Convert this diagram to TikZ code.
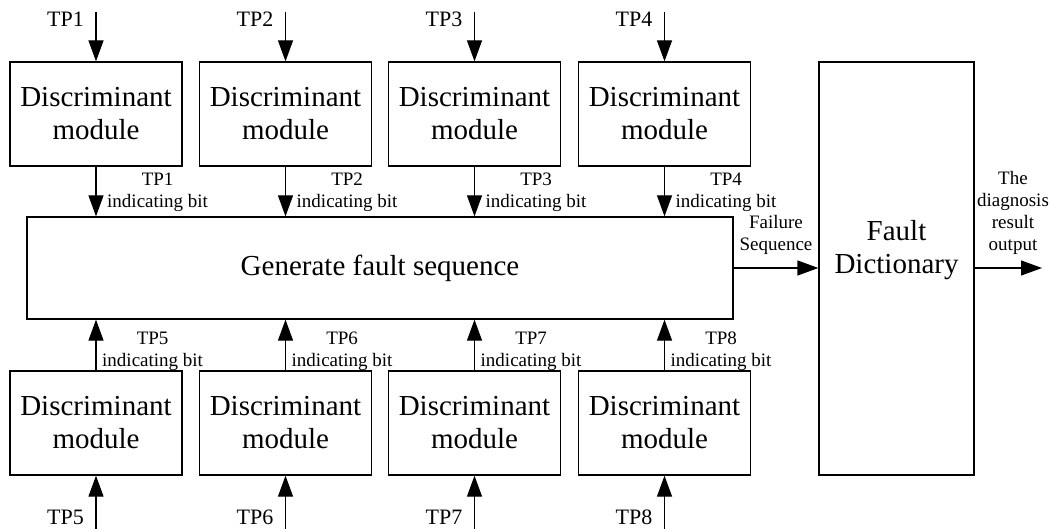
\documentclass[tikz,border=0pt]{standalone}
\usepackage{fontspec}
\setmainfont{Liberation Serif}
\usetikzlibrary{arrows.meta,positioning}

\begin{document}
\begin{tikzpicture}[x=1pt,y=-1pt,
    dmod/.style={draw, line width=1.3pt, minimum width=172pt, minimum height=104pt, inner sep=0pt, align=center, font=\fontsize{29}{33}\selectfont},
    arr/.style={line width=1.3pt, -{Triangle[length=21pt,width=15pt]}},
    tp/.style={inner sep=0pt, font=\fontsize{22}{26}\selectfont},
    bitlab/.style={inner sep=0pt, align=center, font=\fontsize{19}{22}\selectfont}]
        \useasboundingbox (0,0) rectangle (1054,529);
        % discriminant modules, upper row
        \node [dmod] (d1) at (96,114) {Discriminant\\module};
        \node [dmod] (d2) at (285.5,114) {Discriminant\\module};
        \node [dmod] (d3) at (474.5,114) {Discriminant\\module};
        \node [dmod] (d4) at (664.5,114) {Discriminant\\module};
        % discriminant modules, lower row
        \node [dmod] (d5) at (96,423) {Discriminant\\module};
        \node [dmod] (d6) at (285.5,423) {Discriminant\\module};
        \node [dmod] (d7) at (474.5,423) {Discriminant\\module};
        \node [dmod] (d8) at (664.5,423) {Discriminant\\module};
        % sequence generator and dictionary
        \node [draw, line width=1.3pt, minimum width=706pt, minimum height=102pt, font=\fontsize{29}{33}\selectfont] (gen) at (380,268) {Generate fault sequence};
        \node [draw, line width=1.3pt, minimum width=155pt, minimum height=413pt] (dict) at (896.5,268.5) {};
        \node [inner sep=0pt, align=center, font=\fontsize{29}{33}\selectfont] (dtxt) at (896.5,250) {Fault\\Dictionary};
        % test point inputs
        \coordinate (in1) at (96,12);
        \coordinate (in2) at (285.5,12);
        \coordinate (in3) at (474.5,12);
        \coordinate (in4) at (664.5,12);
        \coordinate (in5) at (96,529);
        \coordinate (in6) at (285.5,529);
        \coordinate (in7) at (474.5,529);
        \coordinate (in8) at (664.5,529);
        \draw [arr] (in1) -- (d1.north);
        \draw [arr] (in2) -- (d2.north);
        \draw [arr] (in3) -- (d3.north);
        \draw [arr] (in4) -- (d4.north);
        \draw [arr] (in5) -- (d5.south);
        \draw [arr] (in6) -- (d6.south);
        \draw [arr] (in7) -- (d7.south);
        \draw [arr] (in8) -- (d8.south);
        \node [tp, anchor=north east] (tp1) at (84,12) {TP1};
        \node [tp, anchor=north east] (tp2) at (273.5,12) {TP2};
        \node [tp, anchor=north east] (tp3) at (462.5,12) {TP3};
        \node [tp, anchor=north east] (tp4) at (652.5,12) {TP4};
        \node [tp, anchor=base east] (tp5) at (84,524) {TP5};
        \node [tp, anchor=base east] (tp6) at (273.5,524) {TP6};
        \node [tp, anchor=base east] (tp7) at (462.5,524) {TP7};
        \node [tp, anchor=base east] (tp8) at (652.5,524) {TP8};
        % indicating bits
        \draw [arr] (d1.south) -- (d1.south |- gen.north);
        \draw [arr] (d2.south) -- (d2.south |- gen.north);
        \draw [arr] (d3.south) -- (d3.south |- gen.north);
        \draw [arr] (d4.south) -- (d4.south |- gen.north);
        \draw [arr] (d5.north) -- (d5.north |- gen.south);
        \draw [arr] (d6.north) -- (d6.north |- gen.south);
        \draw [arr] (d7.north) -- (d7.north |- gen.south);
        \draw [arr] (d8.north) -- (d8.north |- gen.south);
        \node [bitlab, anchor=south west] (b1) at (107,212) {TP1\\indicating bit};
        \node [bitlab, anchor=south west] (b2) at (296.5,212) {TP2\\indicating bit};
        \node [bitlab, anchor=south west] (b3) at (485.5,212) {TP3\\indicating bit};
        \node [bitlab, anchor=south west] (b4) at (675.5,212) {TP4\\indicating bit};
        \node [bitlab, anchor=south west] (b5) at (102,371) {TP5\\indicating bit};
        \node [bitlab, anchor=south west] (b6) at (291.5,371) {TP6\\indicating bit};
        \node [bitlab, anchor=south west] (b7) at (480.5,371) {TP7\\indicating bit};
        \node [bitlab, anchor=south west] (b8) at (670.5,371) {TP8\\indicating bit};
        % output side
        \coordinate (out) at (1042,268);
        \draw [arr] (gen.east) -- (gen.east -| dict.west);
        \draw [arr] (gen.east -| dict.east) -- (out);
        \node [bitlab, anchor=south] (fseq) at (776,255) {Failure\\Sequence};
        \node [bitlab, anchor=south] (res) at (1013,255) {The\\diagnosis\\result\\output};
\end{tikzpicture}
\end{document}
